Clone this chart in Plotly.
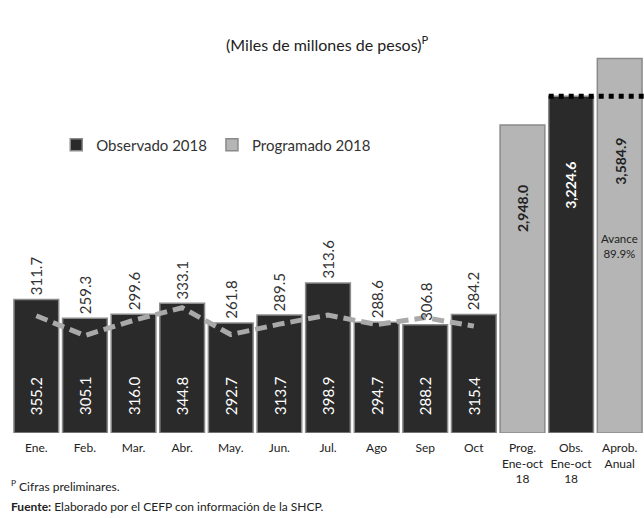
import plotly.graph_objects as go

months = ["Ene.", "Feb.", "Mar.", "Abr.", "May.", "Jun.", "Jul.", "Ago", "Sep", "Oct"]
observado = [355.2, 305.1, 316.0, 344.8, 292.7, 313.7, 398.9, 294.7, 288.2, 315.4]
programado = [311.7, 259.3, 299.6, 333.1, 261.8, 289.5, 313.6, 288.6, 306.8, 284.2]

cum_cats = ["Prog.<br>Ene-oct<br>18", "Obs.<br>Ene-oct<br>18", "Aprob.<br>Anual"]
prog_cum = 2948.0
obs_cum = 3224.6
aprob_anual = 3584.9
avance_text = "Avance<br>89.9%"

all_cats = months + cum_cats

DARK = "#2a2a2a"
LIGHT = "#b5b5b5"
FONT = "Lato"

fig = go.Figure()

fig.add_trace(go.Bar(
    x=months, y=observado, name="Observado 2018",
    marker=dict(color=DARK, line=dict(color="#8a8a8a", width=1.5)),
))

fig.add_trace(go.Scatter(
    x=months, y=programado, mode="lines", showlegend=False,
    line=dict(color="#a9a9a9", width=5, dash="12px,6px"),
))

fig.add_trace(go.Bar(
    x=[cum_cats[0], cum_cats[2]], y=[prog_cum, aprob_anual], name="Programado 2018",
    marker=dict(color=LIGHT, line=dict(color="#8a8a8a", width=1.5)),
    yaxis="y2",
))
fig.add_trace(go.Bar(
    x=[cum_cats[1]], y=[obs_cum], name="Observado Ene-oct", showlegend=False,
    marker=dict(color=DARK, line=dict(color="#8a8a8a", width=1.5)),
    yaxis="y2",
))

# observed labels inside the monthly bars
for m, o in zip(months, observado):
    fig.add_annotation(x=m, y=0, yref="y", text=f"{o:.1f}", textangle=-90,
                       showarrow=False, yanchor="bottom", yshift=16,
                       font=dict(size=15, color="white", family=FONT))

# programmed labels above the monthly bars
for m, o, p in zip(months, observado, programado):
    fig.add_annotation(x=m, y=o, yref="y", text=f"{p:.1f}", textangle=-90,
                       showarrow=False, yanchor="bottom", yshift=2,
                       font=dict(size=15, color="#333333", family=FONT))

# cumulative labels
cum_vals = [prog_cum, obs_cum, aprob_anual]
cum_colors = ["#222222", "white", "#222222"]
cum_shift = [-58, -64, -77]
for c, v, col, s in zip(cum_cats, cum_vals, cum_colors, cum_shift):
    fig.add_annotation(x=c, y=v, yref="y2", text=f"<b>{v:,.1f}</b>", textangle=-90,
                       showarrow=False, yanchor="top", yshift=s,
                       font=dict(size=14, color=col, family=FONT))

fig.add_annotation(x=cum_cats[2], y=aprob_anual * 0.5, yref="y2", text=avance_text,
                   showarrow=False, font=dict(size=11.5, color="#222222", family=FONT))

# dotted reference line at observed cumulative
idx = all_cats.index(cum_cats[1])
fig.add_shape(type="line", xref="x", yref="y2", x0=idx - 0.46, x1=idx + 1.5,
              y0=obs_cum, y1=obs_cum, line=dict(color="black", width=5, dash="dot"))

# footnotes
fig.add_annotation(xref="paper", yref="paper", x=-0.005, y=-0.14, xanchor="left",
                   yanchor="middle", showarrow=False, text="<sup>P</sup> Cifras preliminares.",
                   font=dict(size=12, color="#222222", family=FONT))
fig.add_annotation(xref="paper", yref="paper", x=-0.005, y=-0.195, xanchor="left",
                   yanchor="middle", showarrow=False,
                   text="<b>Fuente:</b> Elaborado por el CEFP con información de la SHCP.",
                   font=dict(size=12, color="#222222", family=FONT))

fig.update_layout(
    width=644, height=518,
    margin=dict(l=12, r=0, t=57, b=85),
    paper_bgcolor="white", plot_bgcolor="white",
    barmode="overlay", bargap=0.08,
    font=dict(family=FONT, color="#222222"),
    title=dict(text="(Miles de millones de pesos)<sup>P</sup>", x=0.508, xanchor="center",
               y=0.913, yanchor="middle", font=dict(size=16, color="#222222", family=FONT)),
    legend=dict(orientation="h", x=0.07, y=0.766, xanchor="left", yanchor="middle",
                font=dict(size=15, color="#333333", family=FONT), bgcolor="rgba(0,0,0,0)",
                traceorder="normal"),
    xaxis=dict(categoryorder="array", categoryarray=all_cats, showgrid=False,
               showline=False, ticks="", tickfont=dict(size=12, color="#222222"),
               ticklabelstandoff=6, range=[-0.5, len(all_cats) - 0.5]),
    yaxis=dict(range=[0, 1000], visible=False, showgrid=False),
    yaxis2=dict(range=[0, 3600], visible=False, showgrid=False, overlaying="y", side="right"),
)

fig.write_html("out.html", config={"displayModeBar": False},
               post_script="document.body.style.margin='0';document.body.style.overflow='hidden';")
